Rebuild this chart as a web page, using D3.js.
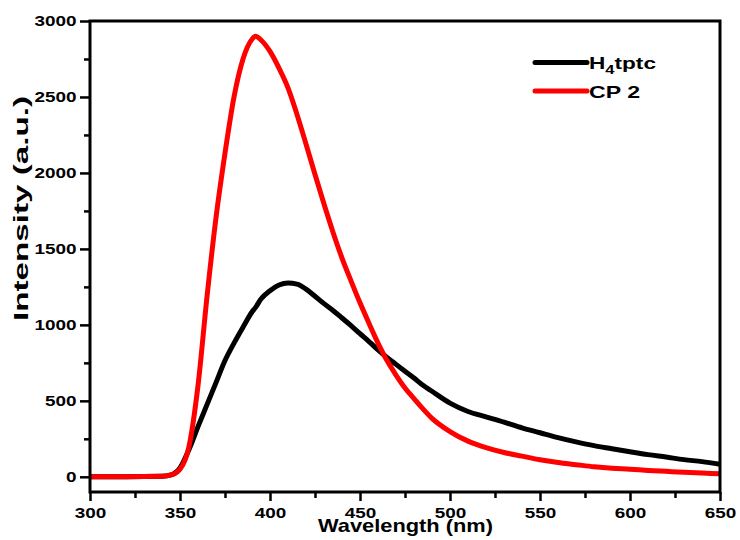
<!DOCTYPE html>
<meta charset="utf-8">
<style>
  body { margin: 0; background: #fff; }
  text { font-family: Arial, "Liberation Sans", sans-serif; font-weight: bold; }
</style>
<body>
<svg id="chart" width="740" height="540"></svg>
<script src="https://d3js.org/d3.v7.min.js"></script>
<script>
  const wavelength = [300, 320, 340, 345, 350, 355, 360, 365, 370, 375, 380, 385, 390, 392, 395, 400, 405, 410, 415, 420, 425, 430, 435, 440, 445, 450, 455, 460, 465, 470, 475, 480, 485, 490, 500, 510, 520, 530, 540, 550, 560, 570, 580, 590, 600, 610, 620, 630, 640, 650];

  const ligand = [0, 0, 3, 12, 58, 180, 330, 475, 620, 765, 880, 985, 1085, 1115, 1170, 1225, 1262, 1276, 1268, 1235, 1188, 1140, 1095, 1045, 995, 942, 890, 835, 785, 740, 695, 650, 602, 563, 485, 430, 395, 360, 322, 290, 258, 230, 205, 185, 165, 146, 130, 113, 100, 83];

  const cp2 = [0, 0, 3, 12, 50, 200, 600, 1185, 1705, 2130, 2500, 2750, 2880, 2900, 2875, 2800, 2690, 2560, 2385, 2190, 1990, 1795, 1610, 1440, 1290, 1145, 1010, 880, 765, 670, 585, 515, 447, 385, 298, 235, 192, 160, 136, 112, 94, 80, 66, 56, 50, 42, 36, 30, 25, 20];

  const xTicks = [300, 350, 400, 450, 500, 550, 600, 650];
  const yTicks = [0, 500, 1000, 1500, 2000, 2500, 3000];

  const svg = d3.select("#chart");
  const mLeft = 90, mRight = 720, mTop = 21, mBottom = 492;
  const stretch = 1.22; // the original glyphs are wider than normal

  const x = d3.scaleLinear().domain([300, 650]).range([mLeft, mRight]);
  const y = d3.scaleLinear().domain([-100, 3000]).range([mBottom, mTop]);

  // minor ticks
  const xMinor = d3.range(325, 650, 50);
  const yMinor = d3.range(250, 3000, 500);

  svg.append("g")
    .attr("transform", `translate(0,${mBottom})`)
    .call(d3.axisBottom(x).tickValues(xMinor).tickSize(6).tickFormat(""))
    .call(g => g.select(".domain").remove())
    .selectAll("line").attr("stroke-width", 2.5);

  svg.append("g")
    .attr("transform", `translate(${mLeft},0)`)
    .call(d3.axisLeft(y).tickValues(yMinor).tickSize(6).tickFormat(""))
    .call(g => g.select(".domain").remove())
    .selectAll("line").attr("stroke-width", 2.5);

  const xAxis = svg.append("g")
    .attr("transform", `translate(0,${mBottom})`)
    .call(d3.axisBottom(x).tickValues(xTicks).tickSize(9).tickPadding(6)
      .tickFormat(d3.format("d")).tickSizeOuter(0));
  xAxis.select(".domain").remove();
  xAxis.selectAll("line").attr("stroke-width", 2.5);
  xAxis.selectAll("text").attr("font-size", 15.5).attr("fill", "#000")
    .attr("transform", `scale(${stretch},1)`);

  const yAxis = svg.append("g")
    .attr("transform", `translate(${mLeft},0)`)
    .call(d3.axisLeft(y).tickValues(yTicks).tickSize(10).tickPadding(1)
      .tickFormat(d3.format("d")).tickSizeOuter(0));
  yAxis.select(".domain").remove();
  yAxis.selectAll("line").attr("stroke-width", 2.5);
  yAxis.selectAll("text").attr("font-size", 15.5).attr("fill", "#000")
    .attr("transform", `scale(${stretch},1)`);

  // series
  const line = d3.line()
    .x((d, i) => x(wavelength[i]))
    .y(d => y(d))
    .curve(d3.curveMonotoneX);

  svg.append("path").datum(ligand)
    .attr("d", line).attr("fill", "none")
    .attr("stroke", "#000").attr("stroke-width", 5).attr("stroke-linejoin", "round");

  svg.append("path").datum(cp2)
    .attr("d", line).attr("fill", "none")
    .attr("stroke", "#ff0000").attr("stroke-width", 5).attr("stroke-linejoin", "round");

  // frame
  svg.append("rect")
    .attr("x", mLeft).attr("y", mTop)
    .attr("width", mRight - mLeft).attr("height", mBottom - mTop)
    .attr("fill", "none").attr("stroke", "#000").attr("stroke-width", 3);

  // legend
  const legend = svg.append("g");
  legend.append("line").attr("x1", 535).attr("x2", 587).attr("y1", 62.5).attr("y2", 62.5)
    .attr("stroke", "#000").attr("stroke-width", 5).attr("stroke-linecap", "round");
  legend.append("line").attr("x1", 535).attr("x2", 587).attr("y1", 91).attr("y2", 91)
    .attr("stroke", "#ff0000").attr("stroke-width", 5).attr("stroke-linecap", "round");
  const t1 = legend.append("text").attr("x", 589).attr("y", 69).attr("font-size", 16.5);
  t1.append("tspan").text("H");
  t1.append("tspan").attr("font-size", 12).attr("dy", 5).text("4");
  t1.append("tspan").attr("dy", -5).text("tptc");
  t1.attr("textLength", 67).attr("lengthAdjust", "spacingAndGlyphs");
  legend.append("text").attr("x", 589).attr("y", 98).attr("font-size", 16.5)
    .attr("textLength", 51).attr("lengthAdjust", "spacingAndGlyphs")
    .text("CP 2");

  // axis titles
  svg.append("text")
    .attr("x", 318).attr("y", 532)
    .attr("font-size", 18.5)
    .attr("textLength", 175).attr("lengthAdjust", "spacingAndGlyphs")
    .text("Wavelength (nm)");

  svg.append("text")
    .attr("transform", `translate(28,321) rotate(-90)`)
    .attr("font-size", 20)
    .attr("textLength", 225).attr("lengthAdjust", "spacingAndGlyphs")
    .text("Intensity (a.u.)");
</script>
</body>
